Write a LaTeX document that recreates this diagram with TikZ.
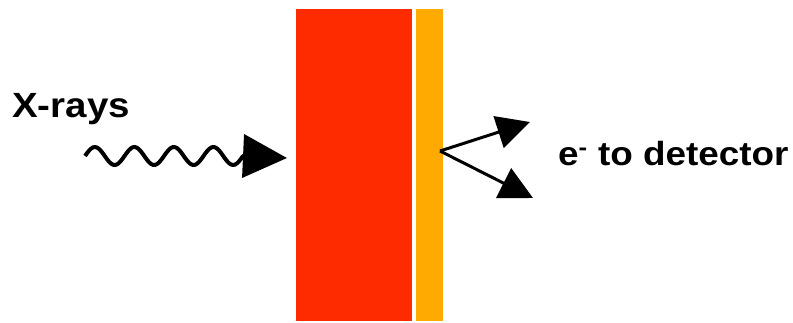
\documentclass[tikz,border=0pt]{standalone}
\usepackage{fontspec}
\setmainfont{Liberation Sans}
\usetikzlibrary{arrows.meta,positioning}
\definecolor{cslab}{HTML}{FF2B00}
\definecolor{ccoat}{HTML}{FFAA00}
\tikzset{
  layer/.style={draw=none, inner sep=0pt, anchor=north west},
  slab/.style={layer, fill=cslab, minimum width=116pt, minimum height=312pt},
  coat/.style={layer, fill=ccoat, minimum width=27pt, minimum height=312pt},
  lbl/.style={inner sep=0pt, anchor=base west, xscale=1.1, font=\fontsize{35}{40}\selectfont\bfseries},
  xray/.style={line width=4pt, -{Triangle[length=44pt,width=43pt]}},
  elec/.style={line width=3pt, -{Triangle[length=33pt,width=33pt]}},
}
\begin{document}
\begin{tikzpicture}[x=1pt,y=-1pt]
\useasboundingbox (0,0) rectangle (793,322);
% absorber and coating
\node[slab] (absorber) at (296,9) {};
\node[coat] (coating) at (416,9) {};
% labels
\node[lbl] (xlbl) at (12,117) {X-rays};
\node[lbl, font=\fontsize{33.5}{38}\selectfont\bfseries] (elbl) at (558,165) {e\textsuperscript{-} to detector};
% incoming photons
\coordinate (hit) at (287,158);
\draw[xray, line join=round] plot[domain=85:243, samples=80, smooth] (\x,{156-9*sin((\x-85)/39.5*360)}) -- (hit);
% emitted electrons
\coordinate (emit) at (440,151);
\coordinate (eup) at (530,122);
\coordinate (edown) at (533,198);
\draw[elec] (emit) -- (eup);
\draw[elec] (emit) -- (edown);
\end{tikzpicture}
\end{document}
